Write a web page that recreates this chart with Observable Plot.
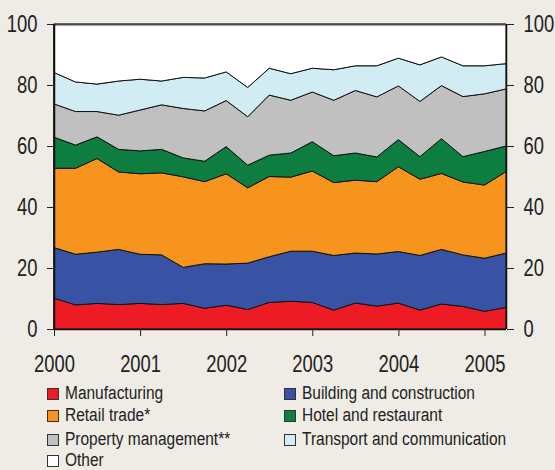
<!DOCTYPE html>
<html>
<head>
<meta charset="utf-8">
<script src="https://cdn.jsdelivr.net/npm/d3@7"></script>
<script src="https://cdn.jsdelivr.net/npm/@observablehq/plot@0.6"></script>
<style>
  html, body { margin: 0; padding: 0; background: #efece5; }
  body { width: 555px; height: 470px; overflow: hidden; font-family: "Liberation Sans", Arial, sans-serif; }
  #chart svg { display: block; }
  .legend { position: absolute; left: 0; top: 383px; width: 555px; font-size: 18px; color: #222; }
  .item { position: absolute; display: flex; align-items: center; white-space: nowrap; }
  .sw { width: 10px; height: 10px; border: 1px solid #333; margin-right: 6px; flex: none; }
  .tx { display: inline-block; transform: scaleX(0.86); transform-origin: 0 50%; }
</style>
</head>
<body>
<div id="chart"></div>
<div class="legend" id="legend"></div>
<script>
const categories = ["Manufacturing", "Building and construction", "Retail trade*", "Hotel and restaurant", "Property management**", "Transport and communication", "Other"];
const colors = ["#ed1c24", "#3953a4", "#f7941d", "#0e7d40", "#c0c0c0", "#d2ecf3", "#ffffff"];
const quarters = d3.range(22).map(i => 2000 + i * 0.25);
const yearTicks = [2000, 2001, 2002, 2003, 2004, 2005];
const yTicks = [0, 20, 40, 60, 80, 100];

const manufacturing = [10.1,7.9,8.4,8.0,8.4,8.0,8.4,6.8,7.8,6.4,8.7,9.1,8.7,6.2,8.5,7.5,8.5,6.2,8.2,7.4,5.8,7.1];
const building      = [16.6,16.6,16.8,18.1,16.1,16.3,11.8,14.6,13.5,15.2,15.0,16.4,16.8,17.9,16.4,17.1,16.9,17.9,17.9,16.9,17.4,17.8];
const retail        = [26.0,28.2,30.7,25.4,26.4,26.9,29.7,26.9,29.6,24.7,26.3,24.3,26.3,23.9,23.9,23.7,27.8,25.0,24.9,23.9,24.0,26.7];
const hotel         = [10.2,7.6,7.1,7.4,7.5,7.7,6.2,6.7,8.9,7.4,7.0,7.9,9.6,8.8,8.9,8.1,8.9,7.4,11.4,8.3,11.0,8.4];
const property      = [10.9,11.0,8.3,11.2,13.4,14.6,16.2,16.5,15.1,15.9,19.7,17.3,16.3,18.2,20.5,19.7,17.6,18.1,17.4,19.7,18.9,18.7];
const transport     = [10.3,9.7,9.0,11.2,10.1,7.8,10.2,10.8,9.4,9.6,8.8,8.7,7.8,10.0,8.1,10.2,9.1,12.0,9.4,10.1,9.2,8.3];
const other         = [15.9,19.0,19.7,18.7,18.1,18.7,17.5,17.7,15.7,20.8,14.5,16.3,14.5,15.0,13.7,13.7,11.2,13.4,10.8,13.7,13.7,13.0];

const series = [manufacturing, building, retail, hotel, property, transport, other];
const data = [];
categories.forEach((c, k) => quarters.forEach((t, i) => data.push({t, sector: c, v: series[k][i]})));

const font = '"Liberation Sans", Arial, sans-serif';

const chart = Plot.plot({
  width: 555,
  height: 380,
  marginLeft: 54,
  marginRight: 49,
  marginTop: 24,
  marginBottom: 51,
  style: { background: "transparent", fontFamily: font, fontSize: "23px", color: "#222" },
  x: { domain: [2000, 2005.25], axis: null },
  y: { domain: [0, 100], axis: null },
  color: { domain: categories, range: colors },
  marks: [
    Plot.areaY(data, Plot.stackY({x: "t", y: "v", z: "sector", fill: "sector", order: categories, stroke: "#111", strokeWidth: 1})),
    Plot.ruleY([100], {stroke: "#4a4a4a", strokeWidth: 2}),
    Plot.ruleY([0], {stroke: "#111", strokeWidth: 1.5}),
    Plot.ruleX([2000, 2005.25], {stroke: "#111", strokeWidth: 1.5}),
    Plot.axisY(yTicks, {anchor: "left", tickSize: 7, tickPadding: 10, label: null, fontSize: 23}),
    Plot.axisY(yTicks, {anchor: "right", tickSize: 7, tickPadding: 10, label: null, fontSize: 23}),
    Plot.axisX(yearTicks, {anchor: "bottom", tickSize: 7, tickPadding: 19, tickFormat: d => String(d), label: null, fontSize: 23})
  ]
});
document.getElementById("chart").appendChild(chart);

// condense axis label glyphs horizontally (narrow typeface look)
chart.querySelectorAll('g[aria-label$="tick label"] text').forEach(t => {
  const tr = t.getAttribute("transform");
  if (tr) {
    t.setAttribute("transform", tr + " scale(0.8,1)");
  } else {
    const x = t.getAttribute("x") || 0, y = t.getAttribute("y") || 0;
    t.removeAttribute("x"); t.removeAttribute("y");
    t.setAttribute("transform", `translate(${x},${y}) scale(0.8,1)`);
  }
});

const legend = document.getElementById("legend");
const pos = [[47,0],[284,0],[47,22],[284,22],[47,46],[284,46],[47,67]];
categories.forEach((c, k) => {
  const it = document.createElement("div");
  it.className = "item";
  it.style.left = pos[k][0] + "px";
  it.style.top = pos[k][1] + "px";
  const sw = document.createElement("span");
  sw.className = "sw";
  sw.style.background = colors[k];
  const tx = document.createElement("span");
  tx.className = "tx";
  tx.textContent = c;
  it.appendChild(sw); it.appendChild(tx);
  legend.appendChild(it);
});
</script>
</body>
</html>
